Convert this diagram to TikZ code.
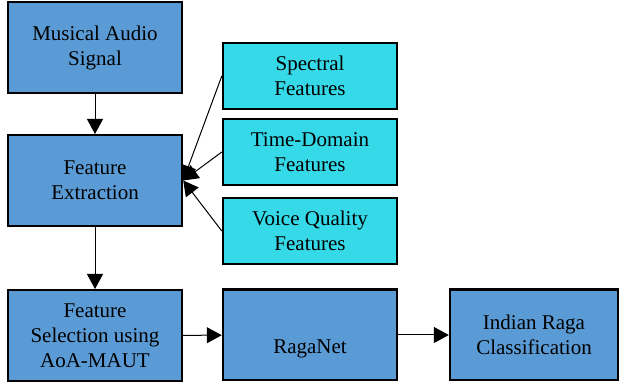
\documentclass[tikz,border=0pt]{standalone}
\usepackage{fontspec}
\setmainfont{Liberation Serif}
\newfontfamily\boxfont{Liberation Serif}
\usetikzlibrary{arrows.meta}
\definecolor{boxblue}{HTML}{5B9BD5}
\definecolor{boxcyan}{HTML}{35D9E8}
\tikzset{
	block/.style={
			draw=black, line width=1.2pt, fill=boxblue,
			minimum width=87pt, minimum height=45.3pt,
			inner sep=0pt, align=center,
			font=\boxfont\fontsize{10.5}{12.5}\selectfont
		},
	feature/.style={block, fill=boxcyan, minimum height=32.8pt},
	flow/.style={-{Triangle[length=7.5pt,width=8pt]}, line width=0.5pt}
}

\begin{document}
\begin{tikzpicture}[x=0.5pt,y=0.5pt]
	\useasboundingbox (0,0) rectangle (621,385);

	\node[block] (signal) at (95,337.5) {Musical Audio\\Signal};
	\node[block] (extract) at (95,204.5) {Feature\\Extraction};
	\node[block] (select) at (95,49.5) {Feature\\Selection using\\AoA-MAUT};

	\node[feature] (spectral) at (310,309) {Spectral\\Features};
	\node[feature] (timedom) at (310,233) {Time-Domain\\Features};
	\node[feature] (voice) at (310,154) {Voice Quality\\Features};

	\node[block] (raganet) at (310,50) {\strut\\RagaNet};
	\node[block, minimum width=84pt] (raga) at (534,50) {Indian Raga\\Classification};

	\draw[flow] (signal) -- (extract);
	\draw[flow] (extract) -- (select);
	\draw[flow] (spectral.west) -- (extract.east);
	\draw[flow] (timedom.west) -- (extract.east);
	\draw[flow] (voice.west) -- (extract.east);
	\draw[flow] (select) -- (raganet);
	\draw[flow] (raganet) -- (raga);
\end{tikzpicture}
\end{document}
